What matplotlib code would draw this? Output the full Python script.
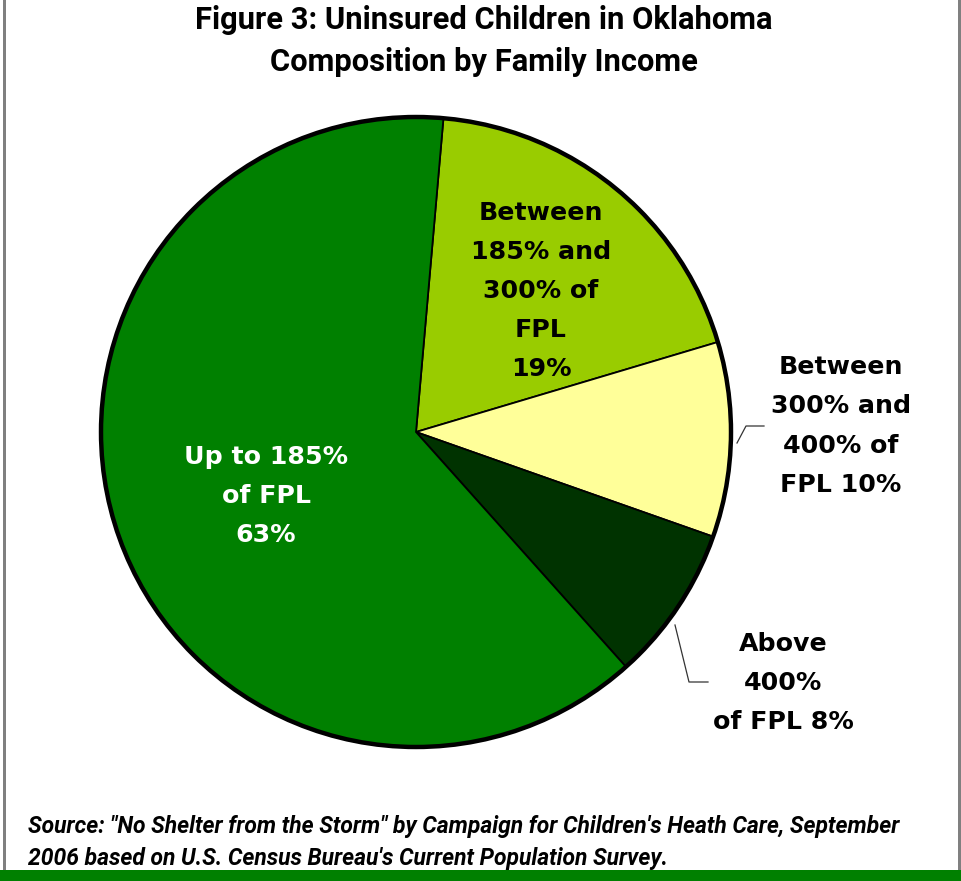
import matplotlib
matplotlib.use("Agg")
import matplotlib.pyplot as plt
from matplotlib.patches import Circle, Rectangle

# data (clockwise from the top)
categories = ["Between 185% and 300% of FPL", "Between 300% and 400% of FPL",
              "Above 400% of FPL", "Up to 185% of FPL"]
shares = [19, 10, 8, 63]
colors = ["#99CC00", "#FFFF99", "#003300", "#008000"]
label_texts = ["Between\n185% and\n300% of\nFPL\n19%",
               "Between\n300% and\n400% of\nFPL 10%",
               "Above\n400%\nof FPL 8%",
               "Up to 185%\nof FPL\n63%"]

W, H = 961, 881
fig = plt.figure(figsize=(W / 100, H / 100), dpi=100)
ax = fig.add_axes([0, 0, 1, 1])

# pixel-like coordinates, y up
cx, cy, r = 416, H - 432, 315
wedges, _ = ax.pie(shares, colors=colors, startangle=85, counterclock=False,
                   center=(cx, cy), radius=r, frame=True,
                   wedgeprops=dict(edgecolor="black", linewidth=1.3))
ax.add_patch(Circle((cx, cy), r, fill=False, edgecolor="black", linewidth=3.2, zorder=5))

ax.set_xlim(0, W)
ax.set_ylim(0, H)
ax.set_aspect("equal")
ax.axis("off")

lab_font = dict(family="DejaVu Sans", fontweight="bold", fontsize=18.2, ha="center",
                va="center", linespacing=1.8)
label_pos = [(541, 291), (841, 426), (783, 683), (266, 496)]
label_col = ["black", "black", "black", "white"]
for txt, (x, y), c in zip(label_texts, label_pos, label_col):
    ax.text(x, H - y, txt, color=c, **lab_font)

# leader lines
ax.plot([737, 746, 764], [H - 443, H - 426, H - 426], color="#333333", lw=0.9)
ax.plot([675, 689, 708], [H - 625, H - 682, H - 682], color="#333333", lw=0.9)

# title
ttl = dict(family="Roboto", fontweight="bold", fontsize=22.2, ha="center", va="center")
ax.text(484, H - 20, "Figure 3: Uninsured Children in Oklahoma", **ttl)
ax.text(484, H - 62, "Composition by Family Income", **ttl)

# source note
src = dict(family="Roboto", fontweight="bold", style="italic",
           fontsize=16.5, ha="left", va="center")
ax.text(28, H - 826, "Source: \"No Shelter from the Storm\" by Campaign for Children's Heath Care, September", **src)
ax.text(28, H - 858, "2006 based on U.S. Census Bureau's Current Population Survey.", **src)

# frame and bottom bar
ax.add_patch(Rectangle((3, 11), 3, H - 11, color="#808080", lw=0))
ax.add_patch(Rectangle((958, 11), 3, H - 11, color="#808080", lw=0))
ax.add_patch(Rectangle((0, 0), W, 11, color="#008000", lw=0))

fig.savefig("out.png", dpi=100)
